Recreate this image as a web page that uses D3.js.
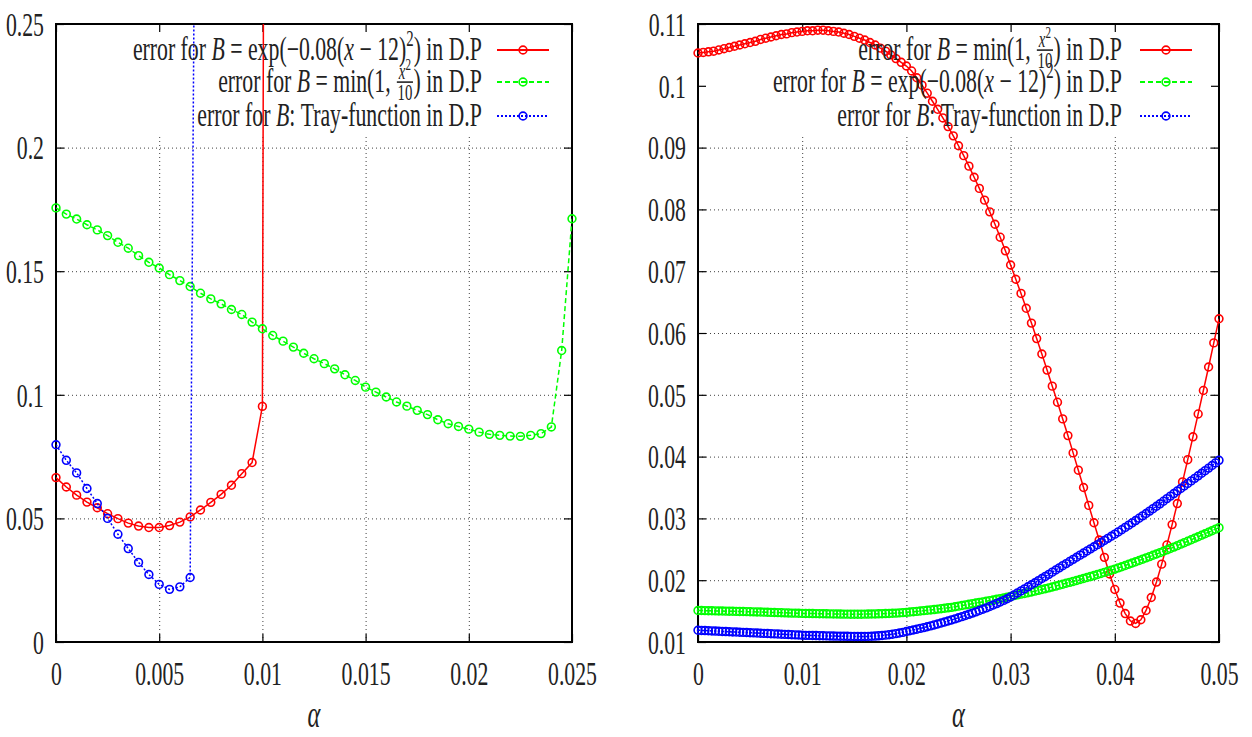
<!DOCTYPE html>
<html>
<head>
<meta charset="utf-8">
<script src="https://cdn.jsdelivr.net/npm/d3@7"></script>
<style>
  body { margin: 0; background: #fff; }
  text { font-family: "Liberation Serif", "DejaVu Serif", serif; fill: #222; }
</style>
</head>
<body>
<svg width="1252" height="737"></svg>
<script>
// ---- data: left panel (alpha step 0.0005) ----
var leftStep = 0.0005;
var leftExp = [0.0665, 0.0627, 0.0594, 0.0566, 0.0543, 0.0519, 0.0499, 0.0481, 0.0469, 0.0463,
  0.0463, 0.0471, 0.0485, 0.0506, 0.0534, 0.0565, 0.0597, 0.0634, 0.0681, 0.0726,
  0.0953, 1.70];
var leftMin = [0.1756, 0.1731, 0.1711, 0.1688, 0.1667, 0.1644, 0.1617, 0.1593, 0.1563, 0.1536,
  0.1513, 0.1486, 0.1462, 0.1438, 0.1411, 0.1388, 0.1368, 0.1345, 0.1325, 0.1294,
  0.1267, 0.1240, 0.1217, 0.1193, 0.1168, 0.1146, 0.1126, 0.1105, 0.1081, 0.1058,
  0.1031, 0.1011, 0.0991, 0.0971, 0.0954, 0.0937, 0.0920, 0.0899, 0.0883, 0.0872,
  0.0861, 0.0849, 0.0840, 0.0836, 0.0833, 0.0832, 0.0836, 0.0843, 0.0870, 0.1179,
  0.1712];
var leftTray = [0.0798, 0.0735, 0.0684, 0.0621, 0.0560, 0.0500, 0.0436, 0.0378, 0.0322, 0.0273,
  0.0233, 0.0213, 0.0223, 0.0261, 0.65];

// ---- data: right panel ----
var rightMinStep = 0.0005;
var rightMin = [0.1053, 0.1054, 0.1055, 0.1056, 0.1058, 0.1060, 0.1062, 0.1064, 0.1066, 0.1068,
  0.1070, 0.1072, 0.1075, 0.1077, 0.1079, 0.1081, 0.1083, 0.1084, 0.1086, 0.1087,
  0.1088, 0.1089, 0.1089, 0.1090, 0.1090, 0.1089, 0.1088, 0.1087, 0.1085, 0.1083,
  0.1080, 0.1077, 0.1074, 0.1070, 0.1066, 0.1061, 0.1056, 0.1050, 0.1044, 0.1038,
  0.1032, 0.1024, 0.1013, 0.1001, 0.0988, 0.0975, 0.0962, 0.0948, 0.0934, 0.0919,
  0.0903, 0.0887, 0.0870, 0.0852, 0.0834, 0.0815, 0.0796, 0.0776, 0.0755, 0.0733,
  0.0710, 0.0687, 0.0664, 0.0640, 0.0616, 0.0591, 0.0566, 0.0540, 0.0514, 0.0488,
  0.0461, 0.0434, 0.0406, 0.0378, 0.0350, 0.0321, 0.0293, 0.0265, 0.0237, 0.0210,
  0.0185, 0.0163, 0.0146, 0.0134, 0.0130, 0.0136, 0.0151, 0.0172, 0.0197, 0.0226,
  0.0257, 0.0290, 0.0324, 0.0359, 0.0395, 0.0432, 0.0469, 0.0507, 0.0545, 0.0584,
  0.0623];
var rightFineStep = 0.05 / 150;
var rightExp = [0.01510, 0.01509, 0.01507, 0.01506, 0.01505, 0.01503, 0.01502, 0.01501, 0.01499, 0.01498, 0.01497, 0.01495, 0.01494, 0.01493, 0.01491, 0.01490,
  0.01488, 0.01486, 0.01485, 0.01483, 0.01481, 0.01479, 0.01477, 0.01476, 0.01474, 0.01472, 0.01470, 0.01468, 0.01467, 0.01465, 0.01463,
  0.01462, 0.01461, 0.01460, 0.01459, 0.01458, 0.01457, 0.01456, 0.01455, 0.01454, 0.01453, 0.01452, 0.01451, 0.01451, 0.01450, 0.01450,
  0.01450, 0.01450, 0.01451, 0.01452, 0.01453, 0.01454, 0.01456, 0.01458, 0.01460, 0.01462, 0.01465, 0.01468, 0.01471, 0.01475, 0.01480,
  0.01485, 0.01490, 0.01495, 0.01501, 0.01507, 0.01513, 0.01519, 0.01525, 0.01532, 0.01539, 0.01546, 0.01553, 0.01561, 0.01570, 0.01580,
  0.01590, 0.01600, 0.01610, 0.01620, 0.01630, 0.01640, 0.01650, 0.01660, 0.01670, 0.01680, 0.01691, 0.01702, 0.01714, 0.01726, 0.01738,
  0.01750, 0.01762, 0.01774, 0.01786, 0.01798, 0.01810, 0.01823, 0.01836, 0.01849, 0.01862, 0.01876, 0.01890, 0.01905, 0.01920, 0.01935,
  0.01950, 0.01965, 0.01980, 0.01995, 0.02011, 0.02027, 0.02043, 0.02059, 0.02075, 0.02092, 0.02109, 0.02126, 0.02144, 0.02162, 0.02180,
  0.02199, 0.02218, 0.02238, 0.02258, 0.02278, 0.02298, 0.02319, 0.02340, 0.02361, 0.02382, 0.02403, 0.02424, 0.02446, 0.02468, 0.02490,
  0.02513, 0.02536, 0.02559, 0.02583, 0.02607, 0.02631, 0.02655, 0.02679, 0.02703, 0.02727, 0.02751, 0.02776, 0.02801, 0.02826, 0.02850];
var rightTray = [0.01190, 0.01187, 0.01185, 0.01182, 0.01179, 0.01177, 0.01174, 0.01171, 0.01169, 0.01166, 0.01163, 0.01161, 0.01158, 0.01155, 0.01153, 0.01150,
  0.01147, 0.01145, 0.01142, 0.01139, 0.01137, 0.01134, 0.01131, 0.01129, 0.01126, 0.01123, 0.01121, 0.01118, 0.01115, 0.01113, 0.01110,
  0.01108, 0.01107, 0.01105, 0.01104, 0.01102, 0.01101, 0.01099, 0.01098, 0.01096, 0.01095, 0.01094, 0.01093, 0.01092, 0.01091, 0.01090,
  0.01089, 0.01089, 0.01090, 0.01091, 0.01093, 0.01096, 0.01100, 0.01105, 0.01111, 0.01118, 0.01126, 0.01135, 0.01145, 0.01156, 0.01170,
  0.01182, 0.01194, 0.01207, 0.01220, 0.01233, 0.01247, 0.01261, 0.01276, 0.01291, 0.01307, 0.01323, 0.01340, 0.01357, 0.01374, 0.01392,
  0.01410, 0.01429, 0.01448, 0.01468, 0.01488, 0.01509, 0.01530, 0.01552, 0.01575, 0.01598, 0.01622, 0.01647, 0.01673, 0.01700, 0.01730,
  0.01762, 0.01794, 0.01827, 0.01860, 0.01893, 0.01926, 0.01959, 0.01993, 0.02027, 0.02061, 0.02095, 0.02130, 0.02165, 0.02200, 0.02235,
  0.02269, 0.02303, 0.02337, 0.02371, 0.02405, 0.02439, 0.02473, 0.02507, 0.02541, 0.02575, 0.02609, 0.02643, 0.02677, 0.02711, 0.02745,
  0.02781, 0.02817, 0.02854, 0.02891, 0.02928, 0.02965, 0.03003, 0.03041, 0.03079, 0.03118, 0.03157, 0.03196, 0.03236, 0.03278, 0.03320,
  0.03361, 0.03402, 0.03443, 0.03484, 0.03525, 0.03566, 0.03607, 0.03648, 0.03689, 0.03730, 0.03772, 0.03814, 0.03856, 0.03898, 0.03940];

// ---- ticks ----
var leftXTicks = [0, 0.005, 0.01, 0.015, 0.02, 0.025];
var leftYTicks = [0, 0.05, 0.1, 0.15, 0.2, 0.25];
var rightXTicks = [0, 0.01, 0.02, 0.03, 0.04, 0.05];
var rightYTicks = [0.01, 0.02, 0.03, 0.04, 0.05, 0.06, 0.07, 0.08, 0.09, 0.1, 0.11];

// ---- legend labels (pieces: plain, italic, superscript, fraction) ----
var NB = '\u00a0';
var keyExp = [{t: 'error for' + NB}, {t: 'B', it: 1}, {t: NB + '=' + NB + 'exp(\u22120.08('}, {t: 'x', it: 1},
  {t: NB + '\u2212' + NB + '12)'}, {sup: '2'}, {t: ')' + NB + 'in D.P'}];
var keyMin = [{t: 'error for' + NB}, {t: 'B', it: 1}, {t: NB + '=' + NB + 'min(1,' + NB}, {frac: 1}, {t: ')' + NB + 'in D.P'}];
var keyTray = [{t: 'error for' + NB}, {t: 'B', it: 1}, {t: ':' + NB + 'Tray-function in D.P'}];

var RED = '#ff0000', GREEN = '#00ff00', BLUE = '#0000ff';
var FONT = 33, SX = 0.66;

var svg = d3.select('svg');
var defs = svg.append('defs');

function toPoints(vals, step) {
  return vals.map(function(v, i) { return {a: i * step, v: v}; });
}

function richText(parent, pieces, size) {
  var g = parent.append('g');
  var cx = 0;
  pieces.forEach(function(pc) {
    if (pc.sup) {
      var s = g.append('text').attr('x', cx).attr('y', -size * 0.42)
        .attr('font-size', size * 0.68).text(pc.sup);
      cx += s.node().getComputedTextLength();
    } else if (pc.frac) {
      var fs = size * 0.68, bar = -size * 0.3;
      var num = g.append('text').attr('y', bar - 3).attr('font-size', fs);
      num.append('tspan').attr('font-style', 'italic').text('x');
      num.append('tspan').attr('font-size', fs * 0.75).attr('dy', -fs * 0.4).text('2');
      var den = g.append('text').attr('y', bar + 3 + fs * 0.66).attr('font-size', fs).text('10');
      var nw = num.node().getComputedTextLength(), dw = den.node().getComputedTextLength();
      var w = Math.max(nw, dw) + 4;
      num.attr('x', cx + (w - nw) / 2);
      den.attr('x', cx + (w - dw) / 2);
      g.append('line').attr('x1', cx + 1).attr('x2', cx + w - 1).attr('y1', bar).attr('y2', bar)
        .attr('stroke', '#222').attr('stroke-width', 1.6);
      cx += w;
    } else {
      var t = g.append('text').attr('x', cx).attr('font-size', size)
        .attr('font-style', pc.it ? 'italic' : null).text(pc.t);
      cx += t.node().getComputedTextLength();
    }
  });
  return {g: g, width: cx};
}

function drawPanel(p) {
  var x = d3.scaleLinear().domain(p.xDomain).range([p.left, p.right]);
  var y = d3.scaleLinear().domain(p.yDomain).range([p.bottom, p.top]);
  var w = p.right - p.left, h = p.bottom - p.top;

  defs.append('clipPath').attr('id', 'plot-' + p.id).append('rect')
    .attr('x', p.left).attr('y', p.top).attr('width', w).attr('height', h);
  defs.append('clipPath').attr('id', 'grid-' + p.id).append('rect')
    .attr('x', p.left).attr('y', p.keyBottom).attr('width', w).attr('height', p.bottom - p.keyBottom);

  var g = svg.append('g');

  // grid (hidden behind the key area, as gnuplot does)
  var grid = g.append('g').attr('clip-path', 'url(#grid-' + p.id + ')');
  grid.append('g').attr('transform', 'translate(0,' + p.bottom + ')')
    .call(d3.axisBottom(x).tickValues(p.xTicks.slice(1, -1)).tickSize(-h).tickFormat(''));
  grid.append('g').attr('transform', 'translate(' + p.left + ',0)')
    .call(d3.axisLeft(y).tickValues(p.yTicks.slice(1, -1)).tickSize(-w).tickFormat(''));
  grid.selectAll('.domain').remove();
  grid.selectAll('line').attr('stroke', '#000').attr('stroke-width', 1)
    .attr('stroke-dasharray', '1,3').attr('opacity', 0.75);

  // ticks, all four sides pointing in
  var ax = g.append('g');
  var bottom = ax.append('g').attr('transform', 'translate(0,' + p.bottom + ')')
    .call(d3.axisBottom(x).tickValues(p.xTicks).tickSize(-8).tickFormat(function(d) { return String(d); }));
  ax.append('g').attr('transform', 'translate(0,' + p.top + ')')
    .call(d3.axisTop(x).tickValues(p.xTicks).tickSize(-8).tickFormat(''));
  var left = ax.append('g').attr('transform', 'translate(' + p.left + ',0)')
    .call(d3.axisLeft(y).tickValues(p.yTicks).tickSize(-8).tickFormat(function(d) { return String(d); }));
  ax.append('g').attr('transform', 'translate(' + p.right + ',0)')
    .call(d3.axisRight(y).tickValues(p.yTicks).tickSize(-8).tickFormat(''));
  ax.selectAll('.domain').remove();
  ax.selectAll('line').attr('stroke', '#000').attr('stroke-width', 1.2);
  ax.selectAll('text').attr('font-family', null).attr('fill', '#222').attr('font-size', FONT);
  bottom.selectAll('text').attr('y', 0).attr('dy', null)
    .attr('transform', 'translate(0,43) scale(' + SX + ',1)');
  left.selectAll('text').attr('x', 0).attr('dy', '0.34em')
    .attr('transform', 'translate(-12,0) scale(' + SX + ',1)');

  // border
  g.append('rect').attr('x', p.left).attr('y', p.top).attr('width', w).attr('height', h)
    .attr('fill', 'none').attr('stroke', '#000').attr('stroke-width', 2);

  // series
  var line = d3.line().x(function(d) { return x(d.a); }).y(function(d) { return y(d.v); });
  p.series.forEach(function(s) {
    var pts = toPoints(s.vals, s.step);
    var sg = g.append('g');
    sg.append('path').datum(pts).attr('d', line).attr('clip-path', 'url(#plot-' + p.id + ')')
      .attr('fill', 'none').attr('stroke', s.color).attr('stroke-width', 1.5)
      .attr('stroke-dasharray', s.dash);
    sg.selectAll('circle').data(pts.filter(function(d) { return d.v <= p.yDomain[1]; }))
      .enter().append('circle')
      .attr('cx', function(d) { return x(d.a); }).attr('cy', function(d) { return y(d.v); })
      .attr('r', 3.9).attr('fill', 'none').attr('stroke', s.color).attr('stroke-width', 1.6);
  });

  // key
  p.series.forEach(function(s, i) {
    var cy = p.keyRows[i];
    var rt = richText(g, s.key, FONT);
    rt.g.attr('transform', 'translate(' + p.keyTextRight + ',' + (cy + 10) + ') scale(' + SX + ',1) translate(' + (-rt.width) + ',0)');
    g.append('line').attr('x1', p.keySample[0]).attr('x2', p.keySample[1]).attr('y1', cy).attr('y2', cy)
      .attr('stroke', s.color).attr('stroke-width', 1.8).attr('stroke-dasharray', s.dash);
    g.append('circle').attr('cx', (p.keySample[0] + p.keySample[1]) / 2).attr('cy', cy).attr('r', 3.9)
      .attr('fill', 'none').attr('stroke', s.color).attr('stroke-width', 1.6);
  });

  // x title
  g.append('text').attr('transform', 'translate(' + ((p.left + p.right) / 2) + ',727) scale(' + SX + ',1)')
    .attr('text-anchor', 'middle').attr('font-size', FONT + 4).attr('font-style', 'italic').text('\u03b1');
}

drawPanel({
  id: 'l', left: 56, right: 572, top: 24, bottom: 642, keyBottom: 134,
  xDomain: [0, 0.025], yDomain: [0, 0.25], xTicks: leftXTicks, yTicks: leftYTicks,
  keyTextRight: 482, keySample: [497, 549], keyRows: [50, 82, 116],
  series: [
    {vals: leftExp, step: leftStep, color: RED, dash: null, key: keyExp},
    {vals: leftMin, step: leftStep, color: GREEN, dash: '5,3', key: keyMin},
    {vals: leftTray, step: leftStep, color: BLUE, dash: '2,2', key: keyTray}
  ]
});

drawPanel({
  id: 'r', left: 698, right: 1219, top: 24, bottom: 642, keyBottom: 136,
  xDomain: [0, 0.05], yDomain: [0.01, 0.11], xTicks: rightXTicks, yTicks: rightYTicks,
  keyTextRight: 1122, keySample: [1140, 1192], keyRows: [50, 82, 116],
  series: [
    {vals: rightMin, step: rightMinStep, color: RED, dash: null, key: keyMin},
    {vals: rightExp, step: rightFineStep, color: GREEN, dash: '5,3', key: keyExp},
    {vals: rightTray, step: rightFineStep, color: BLUE, dash: '2,2', key: keyTray}
  ]
});
</script>
</body>
</html>
